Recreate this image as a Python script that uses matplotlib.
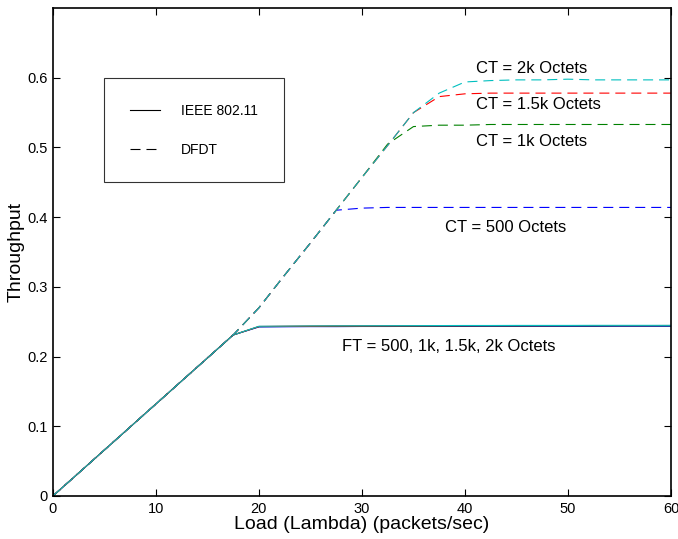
import matplotlib
matplotlib.use("Agg")
import matplotlib.pyplot as plt
from matplotlib.lines import Line2D

plt.rcParams['font.family'] = ['Liberation Sans', 'DejaVu Sans']
plt.rcParams['lines.scale_dashes'] = False

# Load (packets/sec)
load = [0, 2.5, 5, 7.5, 10, 12.5, 15, 17.5, 20, 22.5, 25, 27.5, 30, 32.5, 35,
        37.5, 40, 42.5, 45, 47.5, 50, 52.5, 55, 57.5, 60]

# IEEE 802.11 with frame threshold (FT) - solid lines
ieee_ft500 = [0, 0.033, 0.066, 0.099, 0.132, 0.165, 0.198, 0.231, 0.2425, 0.2428, 0.243, 0.243, 0.2432,
              0.2432, 0.2433, 0.2433, 0.2433, 0.2434, 0.2434, 0.2434, 0.2434, 0.2434, 0.2435, 0.2435, 0.2435]
ieee_ft1k = [0, 0.033, 0.066, 0.099, 0.132, 0.165, 0.198, 0.231, 0.2430, 0.2432, 0.2434, 0.2436, 0.2437,
             0.2438, 0.2438, 0.2439, 0.2440, 0.2440, 0.2440, 0.2441, 0.2441, 0.2441, 0.2442, 0.2442, 0.2442]
ieee_ft1_5k = [0, 0.033, 0.066, 0.099, 0.132, 0.165, 0.198, 0.231, 0.2432, 0.2435, 0.2437, 0.2439, 0.2440,
               0.2441, 0.2442, 0.2443, 0.2443, 0.2444, 0.2444, 0.2444, 0.2445, 0.2445, 0.2445, 0.2445, 0.2446]
ieee_ft2k = [0, 0.033, 0.066, 0.099, 0.132, 0.165, 0.198, 0.231, 0.2435, 0.2437, 0.2440, 0.2441, 0.2442,
             0.2443, 0.2444, 0.2445, 0.2446, 0.2446, 0.2447, 0.2447, 0.2447, 0.2448, 0.2448, 0.2448, 0.2448]

# DFDT with contention threshold (CT) - dashed lines
dfdt_ct500 = [0, 0.033, 0.066, 0.099, 0.132, 0.165, 0.198, 0.231, 0.270, 0.317, 0.363, 0.410, 0.413,
              0.414, 0.414, 0.414, 0.414, 0.414, 0.414, 0.414, 0.414, 0.414, 0.414, 0.414, 0.414]
dfdt_ct1k = [0, 0.033, 0.066, 0.099, 0.132, 0.165, 0.198, 0.231, 0.270, 0.317, 0.363, 0.410, 0.457,
             0.505, 0.530, 0.532, 0.532, 0.533, 0.533, 0.533, 0.533, 0.533, 0.533, 0.533, 0.533]
dfdt_ct1_5k = [0, 0.033, 0.066, 0.099, 0.132, 0.165, 0.198, 0.231, 0.270, 0.317, 0.363, 0.410, 0.457,
               0.503, 0.550, 0.573, 0.577, 0.578, 0.578, 0.578, 0.578, 0.578, 0.578, 0.578, 0.578]
dfdt_ct2k = [0, 0.033, 0.066, 0.099, 0.132, 0.165, 0.198, 0.231, 0.270, 0.317, 0.363, 0.410, 0.457,
             0.503, 0.550, 0.578, 0.594, 0.596, 0.597, 0.597, 0.598, 0.597, 0.597, 0.597, 0.597]

x_ticks = [0, 10, 20, 30, 40, 50, 60]
y_ticks = [0, 0.1, 0.2, 0.3, 0.4, 0.5, 0.6]
y_tick_labels = ['0', '0.1', '0.2', '0.3', '0.4', '0.5', '0.6']

colors = ['#0000ff', '#008000', '#ff0000', '#00bfbf']

fig = plt.figure(figsize=(6.78, 5.39), dpi=100)
ax = fig.add_axes([0.078, 0.0798, 0.9117, 0.9052])

dash = (7.2, 4.3)
for ys, c in zip([ieee_ft500, ieee_ft1k, ieee_ft1_5k, ieee_ft2k], colors):
    ax.plot(load, ys, color=c, lw=0.8, solid_joinstyle='miter')
for ys, c in zip([dfdt_ct500, dfdt_ct1k, dfdt_ct1_5k, dfdt_ct2k], colors):
    ax.plot(load, ys, color=c, lw=0.8, dashes=dash)

ax.set_xlim(0, 60)
ax.set_ylim(0, 0.7)
ax.set_xticks(x_ticks)
ax.set_yticks(y_ticks)
ax.set_yticklabels(y_tick_labels)
ax.tick_params(direction='in', length=5, width=0.8, labelsize=10.5, top=True, right=True,
               pad=4)
for s in ax.spines.values():
    s.set_linewidth(1.2)

ax.set_xlabel('Load (Lambda) (packets/sec)', fontsize=14, labelpad=0)
ax.set_ylabel('Throughput', fontsize=14, labelpad=2)

fs = 12
ax.text(41.1, 0.614, 'CT = 2k Octets', fontsize=fs, va='center', ha='left')
ax.text(41.1, 0.561, 'CT = 1.5k Octets', fontsize=fs, va='center', ha='left')
ax.text(41.1, 0.509, 'CT = 1k Octets', fontsize=fs, va='center', ha='left')
ax.text(38.1, 0.385, 'CT = 500 Octets', fontsize=fs, va='center', ha='left')
ax.text(28.1, 0.214, 'FT = 500, 1k, 1.5k, 2k Octets', fontsize=fs, va='center', ha='left')

handles = [Line2D([], [], color='black', lw=0.8),
           Line2D([], [], color='black', lw=0.8, dashes=dash)]
leg = ax.legend(handles, ['IEEE 802.11', 'DFDT'], loc='upper left',
                bbox_to_anchor=(0.0825, 0.857), fontsize=10, frameon=True,
                fancybox=False, edgecolor='black', borderpad=1.85, labelspacing=1.8,
                handlelength=2.2, handletextpad=1.5, borderaxespad=0)
leg.get_frame().set_linewidth(0.8)

fig.savefig('out.png', dpi=100)
